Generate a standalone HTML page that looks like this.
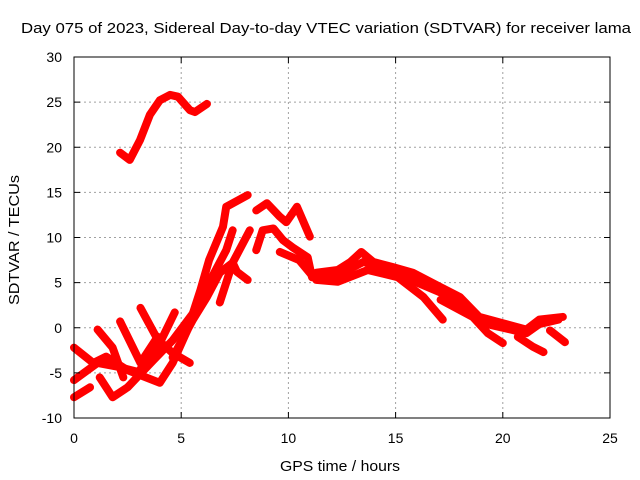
<!DOCTYPE html>
<html><head><meta charset="utf-8"><style>
body{margin:0;background:#fff;}
svg{display:block;font-family:"Liberation Sans",sans-serif;}
</style></head><body>
<svg id="chart" width="640" height="480">
<text x="326" y="33" font-size="15" text-anchor="middle" textLength="610" lengthAdjust="spacingAndGlyphs">Day 075 of 2023, Sidereal Day-to-day VTEC variation (SDTVAR) for receiver lama</text>
<text x="340" y="471" font-size="15" text-anchor="middle" textLength="120" lengthAdjust="spacingAndGlyphs">GPS time / hours</text>
<text transform="translate(19,240) rotate(-90)" font-size="15" text-anchor="middle" textLength="130" lengthAdjust="spacingAndGlyphs">SDTVAR / TECUs</text>
<g id="grid"></g><g id="series"></g><g id="axes"></g>
</svg>
<script>
const xTicks=[0,5,10,15,20,25];
const yTicks=[-10,-5,0,5,10,15,20,25,30];
const segA=[[2.15,19.4],[2.6,18.6],[3.08,20.8],[3.54,23.6],[4.0,25.2],[4.48,25.8],[4.85,25.6],[5.41,24.1],[5.64,23.9],[6.2,24.8]];
const segB=[[0,-2.2],[0.9,-3.9],[1.5,-3.2],[2.5,-4.7],[4.0,-6.1],[4.6,-3.9],[5.3,-0.2],[5.9,4.2],[6.3,7.5],[6.95,11.2],[7.1,13.4],[8.1,14.7]];
const segC=[[0,-5.8],[1.1,-3.9],[2,-4.3],[3,-4.9],[4,-1.7],[4.7,1.7]];
const segD=[[1.1,-0.2],[1.8,-2.2],[2.3,-5.5]];
const segE=[[2.15,0.7],[3.1,-3.9],[3.9,-1]];
const segF=[[3.1,2.2],[3.9,-1.3],[4.6,-2.8],[5.4,-3.9]];
const segG=[[0,-7.7],[0.75,-6.6]];
const segH=[[1.2,-5.5],[1.8,-7.7],[2.5,-6.6],[3.7,-3.6],[4.6,-1.4],[5.55,1.6],[6.3,5],[7.1,8.6],[7.4,10.8]];
const segI=[[4.6,-3.3],[5.55,0.9],[6.2,3.4],[6.8,6.1],[7.4,7.2],[8.2,10.8]];
const segI2=[[6.8,2.8],[7.4,7.2],[7.6,6.2],[8.1,5.3]];
const segJ=[[8.5,13],[9,13.8],[9.6,12.3],[9.9,11.7],[10.4,13.4],[11,10.1]];
const segK=[[8.5,8.6],[8.8,10.8],[9.3,11],[9.75,9.7],[10.2,8.9],[10.9,7.8],[11.1,5.6]];
const segL=[[9.6,8.4],[10.5,7.5],[11.1,5.8]];
const segM=[[11.3,6.1],[12.3,6.4],[12.9,7.3],[13.4,8.4],[13.95,7.3],[14.9,6.7],[15.8,6.1],[17.1,4.5],[18,3.4],[18.9,1.2],[20,0.5],[21.1,-0.2],[21.7,0.9],[22.8,1.2]];
const segM2=[[11.3,5.7],[12.3,5.8],[13.5,7.3],[14.9,6.3],[16,5],[17.1,3.9],[18,2.8],[18.9,0.6],[20,0],[21.1,-0.6],[21.7,0.4],[22.6,0.9]];
const segN=[[11.3,5.3],[12.3,5.1],[13.7,6.4],[15.1,5.6],[16.3,3.4],[17.2,0.9]];
const segN2=[[17.1,3.1],[18.6,1.2],[19.3,-0.6],[20,-1.7]];
const segO=[[20.7,-1],[21.4,-2.1],[21.9,-2.7]];
const segP=[[22.2,-0.3],[22.9,-1.6]];
const allSeries=[segA,segB,segC,segD,segE,segF,segG,segH,segI,segI2,segJ,segK,segL,segM,segM2,segN,segN2,segO,segP];
const X0=74,X1=610,Y0=418,Y1=57;
const sx=h=>X0+(h-0)/(25-0)*(X1-X0);
const sy=v=>Y0-(v+10)/40*(Y0-Y1);
const NS="http://www.w3.org/2000/svg";
const mk=(t,a,p)=>{const e=document.createElementNS(NS,t);for(const k in a)e.setAttribute(k,a[k]);p.appendChild(e);return e;};
const grid=document.getElementById('grid'),axes=document.getElementById('axes'),ser=document.getElementById('series');
xTicks.forEach(t=>{
  const x=sx(t);
  if(t>0&&t<25){const g=mk('line',{x1:x,x2:x,y1:Y1,y2:Y0,stroke:'#a0a0a0','stroke-dasharray':'2,3'},grid);
  
  }
  const tk=mk('line',{x1:x,x2:x,y1:Y0,y2:Y0-6,stroke:'#000'},axes);
  
  
  const tk2=mk('line',{x1:x,x2:x,y1:Y1,y2:Y1+6,stroke:'#000'},axes);
  
  
  const l=mk('text',{x:x,y:Y0+25,'font-size':14,'text-anchor':'middle'},axes);l.textContent=t;
  
  
});
yTicks.forEach(t=>{
  const y=sy(t);
  if(t>-10&&t<30){const g=mk('line',{x1:X0,x2:X1,y1:y,y2:y,stroke:'#a0a0a0','stroke-dasharray':'2,3'},grid);
  
  }
  const tk=mk('line',{x1:X0,x2:X0+6,y1:y,y2:y,stroke:'#000'},axes);
  
  
  const tk2=mk('line',{x1:X1,x2:X1-6,y1:y,y2:y,stroke:'#000'},axes);
  
  
  const l=mk('text',{x:X0-12,y:y+5,'font-size':14,'text-anchor':'end'},axes);l.textContent=t;
  
  
});
const fr=mk('rect',{x:X0,y:Y1,width:X1-X0,height:Y0-Y1,fill:'none',stroke:'#000'},axes);


allSeries.forEach(s=>{
  const p=mk('polyline',{points:s.map(d=>sx(d[0])+','+sy(d[1])).join(' '),fill:'none',stroke:'#ff0000','stroke-width':8,'stroke-linejoin':'round','stroke-linecap':'round'},ser);
  
  
});
</script>
</body></html>
